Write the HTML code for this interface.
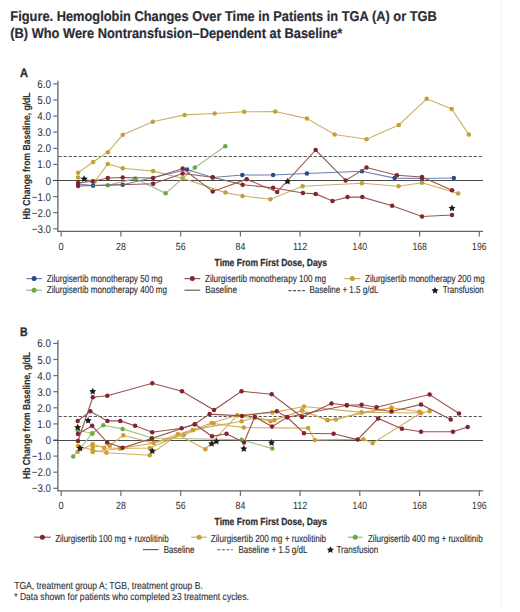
<!DOCTYPE html>
<html><head><meta charset="utf-8"><title>Figure</title>
<style>
html,body{margin:0;padding:0;background:#fff;}
body{width:520px;height:612px;overflow:hidden;font-family:"Liberation Sans", sans-serif;}
svg{display:block;}
</style></head><body>
<svg width="520" height="612" viewBox="0 0 520 612" text-rendering="geometricPrecision">
<g font-family='"Liberation Sans", sans-serif'>
<rect x="499.5" y="0" width="3" height="607.5" fill="#f9f9f9"/>
<text x="10.3" y="20.9" font-size="14.2" font-weight="bold" text-anchor="start" fill="#2a2d35" textLength="426.5" lengthAdjust="spacingAndGlyphs" stroke="#2a2d35" stroke-width="0.2">Figure. Hemoglobin Changes Over Time in Patients in TGA (A) or TGB</text>
<text x="10.3" y="37.7" font-size="14.2" font-weight="bold" text-anchor="start" fill="#2a2d35" textLength="332.0" lengthAdjust="spacingAndGlyphs" stroke="#2a2d35" stroke-width="0.2">(B) Who Were Nontransfusion–Dependent at Baseline*</text>
<text x="19.9" y="76.7" font-size="12.5" font-weight="bold" text-anchor="start" fill="#2d2f33" textLength="8.0" lengthAdjust="spacingAndGlyphs" stroke="#2d2f33" stroke-width="0.35">A</text>
<text transform="translate(30.4,156.0) rotate(-90)" x="0" y="0" font-size="10.2" font-weight="bold" text-anchor="middle" fill="#2d2f33" stroke="#2d2f33" stroke-width="0.1" textLength="127" lengthAdjust="spacingAndGlyphs">Hb Change from Baseline, g/dL</text>
<line x1="53.3" y1="83.9" x2="57.9" y2="83.9" stroke="#6e6e6e" stroke-width="1.2"/>
<text x="51.0" y="87.9" font-size="11.2" font-weight="normal" text-anchor="end" fill="#2d2f33" textLength="13.8" lengthAdjust="spacingAndGlyphs">6.0</text>
<line x1="53.3" y1="100.0" x2="57.9" y2="100.0" stroke="#6e6e6e" stroke-width="1.2"/>
<text x="51.0" y="104.0" font-size="11.2" font-weight="normal" text-anchor="end" fill="#2d2f33" textLength="13.8" lengthAdjust="spacingAndGlyphs">5.0</text>
<line x1="53.3" y1="116.1" x2="57.9" y2="116.1" stroke="#6e6e6e" stroke-width="1.2"/>
<text x="51.0" y="120.1" font-size="11.2" font-weight="normal" text-anchor="end" fill="#2d2f33" textLength="13.8" lengthAdjust="spacingAndGlyphs">4.0</text>
<line x1="53.3" y1="132.2" x2="57.9" y2="132.2" stroke="#6e6e6e" stroke-width="1.2"/>
<text x="51.0" y="136.2" font-size="11.2" font-weight="normal" text-anchor="end" fill="#2d2f33" textLength="13.8" lengthAdjust="spacingAndGlyphs">3.0</text>
<line x1="53.3" y1="148.3" x2="57.9" y2="148.3" stroke="#6e6e6e" stroke-width="1.2"/>
<text x="51.0" y="152.3" font-size="11.2" font-weight="normal" text-anchor="end" fill="#2d2f33" textLength="13.8" lengthAdjust="spacingAndGlyphs">2.0</text>
<line x1="53.3" y1="164.4" x2="57.9" y2="164.4" stroke="#6e6e6e" stroke-width="1.2"/>
<text x="51.0" y="168.4" font-size="11.2" font-weight="normal" text-anchor="end" fill="#2d2f33" textLength="13.8" lengthAdjust="spacingAndGlyphs">1.0</text>
<line x1="53.3" y1="180.5" x2="57.9" y2="180.5" stroke="#6e6e6e" stroke-width="1.2"/>
<text x="51.0" y="184.5" font-size="11.2" font-weight="normal" text-anchor="end" fill="#2d2f33" textLength="5.6" lengthAdjust="spacingAndGlyphs">0</text>
<line x1="53.3" y1="196.6" x2="57.9" y2="196.6" stroke="#6e6e6e" stroke-width="1.2"/>
<text x="51.0" y="200.6" font-size="11.2" font-weight="normal" text-anchor="end" fill="#2d2f33" textLength="19.2" lengthAdjust="spacingAndGlyphs">−1.0</text>
<line x1="53.3" y1="212.7" x2="57.9" y2="212.7" stroke="#6e6e6e" stroke-width="1.2"/>
<text x="51.0" y="216.7" font-size="11.2" font-weight="normal" text-anchor="end" fill="#2d2f33" textLength="19.2" lengthAdjust="spacingAndGlyphs">−2.0</text>
<line x1="53.3" y1="228.8" x2="57.9" y2="228.8" stroke="#6e6e6e" stroke-width="1.2"/>
<text x="51.0" y="232.8" font-size="11.2" font-weight="normal" text-anchor="end" fill="#2d2f33" textLength="19.2" lengthAdjust="spacingAndGlyphs">−3.0</text>
<line x1="57.9" y1="80.8" x2="57.9" y2="231.6" stroke="#6e6e6e" stroke-width="1.4"/>
<line x1="57.2" y1="231.3" x2="483" y2="231.3" stroke="#666" stroke-width="1.2"/>
<line x1="61.2" y1="231.1" x2="61.2" y2="236.4" stroke="#6e6e6e" stroke-width="1.2"/>
<text x="61.2" y="249.6" font-size="10.4" font-weight="normal" text-anchor="middle" fill="#2d2f33" textLength="5.2" lengthAdjust="spacingAndGlyphs">0</text>
<line x1="120.9" y1="231.1" x2="120.9" y2="236.4" stroke="#6e6e6e" stroke-width="1.2"/>
<text x="120.9" y="249.6" font-size="10.4" font-weight="normal" text-anchor="middle" fill="#2d2f33" textLength="9.8" lengthAdjust="spacingAndGlyphs">28</text>
<line x1="180.7" y1="231.1" x2="180.7" y2="236.4" stroke="#6e6e6e" stroke-width="1.2"/>
<text x="180.7" y="249.6" font-size="10.4" font-weight="normal" text-anchor="middle" fill="#2d2f33" textLength="9.8" lengthAdjust="spacingAndGlyphs">56</text>
<line x1="240.4" y1="231.1" x2="240.4" y2="236.4" stroke="#6e6e6e" stroke-width="1.2"/>
<text x="240.4" y="249.6" font-size="10.4" font-weight="normal" text-anchor="middle" fill="#2d2f33" textLength="9.8" lengthAdjust="spacingAndGlyphs">84</text>
<line x1="300.1" y1="231.1" x2="300.1" y2="236.4" stroke="#6e6e6e" stroke-width="1.2"/>
<text x="300.1" y="249.6" font-size="10.4" font-weight="normal" text-anchor="middle" fill="#2d2f33" textLength="14.4" lengthAdjust="spacingAndGlyphs">112</text>
<line x1="359.8" y1="231.1" x2="359.8" y2="236.4" stroke="#6e6e6e" stroke-width="1.2"/>
<text x="359.8" y="249.6" font-size="10.4" font-weight="normal" text-anchor="middle" fill="#2d2f33" textLength="14.4" lengthAdjust="spacingAndGlyphs">140</text>
<line x1="419.6" y1="231.1" x2="419.6" y2="236.4" stroke="#6e6e6e" stroke-width="1.2"/>
<text x="419.6" y="249.6" font-size="10.4" font-weight="normal" text-anchor="middle" fill="#2d2f33" textLength="14.4" lengthAdjust="spacingAndGlyphs">168</text>
<line x1="479.3" y1="231.1" x2="479.3" y2="236.4" stroke="#6e6e6e" stroke-width="1.2"/>
<text x="479.3" y="249.6" font-size="10.4" font-weight="normal" text-anchor="middle" fill="#2d2f33" textLength="14.4" lengthAdjust="spacingAndGlyphs">196</text>
<text x="214.6" y="265.7" font-size="10.2" font-weight="bold" text-anchor="start" fill="#2d2f33" textLength="112.5" lengthAdjust="spacingAndGlyphs" stroke="#2d2f33" stroke-width="0.25">Time From First Dose, Days</text>
<line x1="53.3" y1="180.5" x2="483" y2="180.5" stroke="#4a4a4a" stroke-width="1.0"/>
<line x1="58.6" y1="156.5" x2="483" y2="156.5" stroke="#5a5a5a" stroke-width="1.0" stroke-dasharray="3.3,1.7"/>
<text x="19.9" y="335.8" font-size="12.5" font-weight="bold" text-anchor="start" fill="#2d2f33" textLength="7.6" lengthAdjust="spacingAndGlyphs" stroke="#2d2f33" stroke-width="0.35">B</text>
<text transform="translate(30.4,415.5) rotate(-90)" x="0" y="0" font-size="10.2" font-weight="bold" text-anchor="middle" fill="#2d2f33" stroke="#2d2f33" stroke-width="0.1" textLength="127" lengthAdjust="spacingAndGlyphs">Hb Change from Baseline, g/dL</text>
<line x1="53.3" y1="343.4" x2="57.9" y2="343.4" stroke="#6e6e6e" stroke-width="1.2"/>
<text x="51.0" y="347.4" font-size="11.2" font-weight="normal" text-anchor="end" fill="#2d2f33" textLength="13.8" lengthAdjust="spacingAndGlyphs">6.0</text>
<line x1="53.3" y1="359.5" x2="57.9" y2="359.5" stroke="#6e6e6e" stroke-width="1.2"/>
<text x="51.0" y="363.5" font-size="11.2" font-weight="normal" text-anchor="end" fill="#2d2f33" textLength="13.8" lengthAdjust="spacingAndGlyphs">5.0</text>
<line x1="53.3" y1="375.6" x2="57.9" y2="375.6" stroke="#6e6e6e" stroke-width="1.2"/>
<text x="51.0" y="379.6" font-size="11.2" font-weight="normal" text-anchor="end" fill="#2d2f33" textLength="13.8" lengthAdjust="spacingAndGlyphs">4.0</text>
<line x1="53.3" y1="391.7" x2="57.9" y2="391.7" stroke="#6e6e6e" stroke-width="1.2"/>
<text x="51.0" y="395.7" font-size="11.2" font-weight="normal" text-anchor="end" fill="#2d2f33" textLength="13.8" lengthAdjust="spacingAndGlyphs">3.0</text>
<line x1="53.3" y1="407.8" x2="57.9" y2="407.8" stroke="#6e6e6e" stroke-width="1.2"/>
<text x="51.0" y="411.8" font-size="11.2" font-weight="normal" text-anchor="end" fill="#2d2f33" textLength="13.8" lengthAdjust="spacingAndGlyphs">2.0</text>
<line x1="53.3" y1="423.9" x2="57.9" y2="423.9" stroke="#6e6e6e" stroke-width="1.2"/>
<text x="51.0" y="427.9" font-size="11.2" font-weight="normal" text-anchor="end" fill="#2d2f33" textLength="13.8" lengthAdjust="spacingAndGlyphs">1.0</text>
<line x1="53.3" y1="440.0" x2="57.9" y2="440.0" stroke="#6e6e6e" stroke-width="1.2"/>
<text x="51.0" y="444.0" font-size="11.2" font-weight="normal" text-anchor="end" fill="#2d2f33" textLength="5.6" lengthAdjust="spacingAndGlyphs">0</text>
<line x1="53.3" y1="456.1" x2="57.9" y2="456.1" stroke="#6e6e6e" stroke-width="1.2"/>
<text x="51.0" y="460.1" font-size="11.2" font-weight="normal" text-anchor="end" fill="#2d2f33" textLength="19.2" lengthAdjust="spacingAndGlyphs">−1.0</text>
<line x1="53.3" y1="472.2" x2="57.9" y2="472.2" stroke="#6e6e6e" stroke-width="1.2"/>
<text x="51.0" y="476.2" font-size="11.2" font-weight="normal" text-anchor="end" fill="#2d2f33" textLength="19.2" lengthAdjust="spacingAndGlyphs">−2.0</text>
<line x1="53.3" y1="488.3" x2="57.9" y2="488.3" stroke="#6e6e6e" stroke-width="1.2"/>
<text x="51.0" y="492.3" font-size="11.2" font-weight="normal" text-anchor="end" fill="#2d2f33" textLength="19.2" lengthAdjust="spacingAndGlyphs">−3.0</text>
<line x1="57.9" y1="340.3" x2="57.9" y2="491.1" stroke="#6e6e6e" stroke-width="1.4"/>
<line x1="57.2" y1="490.8" x2="483" y2="490.8" stroke="#666" stroke-width="1.2"/>
<line x1="61.2" y1="490.6" x2="61.2" y2="495.9" stroke="#6e6e6e" stroke-width="1.2"/>
<text x="61.2" y="509.1" font-size="10.4" font-weight="normal" text-anchor="middle" fill="#2d2f33" textLength="5.2" lengthAdjust="spacingAndGlyphs">0</text>
<line x1="120.9" y1="490.6" x2="120.9" y2="495.9" stroke="#6e6e6e" stroke-width="1.2"/>
<text x="120.9" y="509.1" font-size="10.4" font-weight="normal" text-anchor="middle" fill="#2d2f33" textLength="9.8" lengthAdjust="spacingAndGlyphs">28</text>
<line x1="180.7" y1="490.6" x2="180.7" y2="495.9" stroke="#6e6e6e" stroke-width="1.2"/>
<text x="180.7" y="509.1" font-size="10.4" font-weight="normal" text-anchor="middle" fill="#2d2f33" textLength="9.8" lengthAdjust="spacingAndGlyphs">56</text>
<line x1="240.4" y1="490.6" x2="240.4" y2="495.9" stroke="#6e6e6e" stroke-width="1.2"/>
<text x="240.4" y="509.1" font-size="10.4" font-weight="normal" text-anchor="middle" fill="#2d2f33" textLength="9.8" lengthAdjust="spacingAndGlyphs">84</text>
<line x1="300.1" y1="490.6" x2="300.1" y2="495.9" stroke="#6e6e6e" stroke-width="1.2"/>
<text x="300.1" y="509.1" font-size="10.4" font-weight="normal" text-anchor="middle" fill="#2d2f33" textLength="14.4" lengthAdjust="spacingAndGlyphs">112</text>
<line x1="359.8" y1="490.6" x2="359.8" y2="495.9" stroke="#6e6e6e" stroke-width="1.2"/>
<text x="359.8" y="509.1" font-size="10.4" font-weight="normal" text-anchor="middle" fill="#2d2f33" textLength="14.4" lengthAdjust="spacingAndGlyphs">140</text>
<line x1="419.6" y1="490.6" x2="419.6" y2="495.9" stroke="#6e6e6e" stroke-width="1.2"/>
<text x="419.6" y="509.1" font-size="10.4" font-weight="normal" text-anchor="middle" fill="#2d2f33" textLength="14.4" lengthAdjust="spacingAndGlyphs">168</text>
<line x1="479.3" y1="490.6" x2="479.3" y2="495.9" stroke="#6e6e6e" stroke-width="1.2"/>
<text x="479.3" y="509.1" font-size="10.4" font-weight="normal" text-anchor="middle" fill="#2d2f33" textLength="14.4" lengthAdjust="spacingAndGlyphs">196</text>
<text x="214.6" y="525.2" font-size="10.2" font-weight="bold" text-anchor="start" fill="#2d2f33" textLength="112.5" lengthAdjust="spacingAndGlyphs" stroke="#2d2f33" stroke-width="0.25">Time From First Dose, Days</text>
<line x1="53.3" y1="440.5" x2="483" y2="440.5" stroke="#4a4a4a" stroke-width="1.0"/>
<line x1="58.6" y1="416.5" x2="483" y2="416.5" stroke="#5a5a5a" stroke-width="1.0" stroke-dasharray="3.3,1.7"/>
<polyline points="78.1,172.7 93.2,162.0 107.8,152.2 122.8,134.8 152.8,121.8 184.6,114.9 214.7,113.5 244.2,111.8 275.3,111.5 306.9,118.6 334.6,134.5 366.5,139.3 398.8,125.0 426.7,98.8 451.7,109.0 468.8,134.6" fill="none" stroke="#cbb066" stroke-width="1.1"/>
<circle cx="78.1" cy="172.7" r="2.25" fill="#c1a034"/>
<circle cx="93.2" cy="162.0" r="2.25" fill="#c1a034"/>
<circle cx="107.8" cy="152.2" r="2.25" fill="#c1a034"/>
<circle cx="122.8" cy="134.8" r="2.25" fill="#c1a034"/>
<circle cx="152.8" cy="121.8" r="2.25" fill="#c1a034"/>
<circle cx="184.6" cy="114.9" r="2.25" fill="#c1a034"/>
<circle cx="214.7" cy="113.5" r="2.25" fill="#c1a034"/>
<circle cx="244.2" cy="111.8" r="2.25" fill="#c1a034"/>
<circle cx="275.3" cy="111.5" r="2.25" fill="#c1a034"/>
<circle cx="306.9" cy="118.6" r="2.25" fill="#c1a034"/>
<circle cx="334.6" cy="134.5" r="2.25" fill="#c1a034"/>
<circle cx="366.5" cy="139.3" r="2.25" fill="#c1a034"/>
<circle cx="398.8" cy="125.0" r="2.25" fill="#c1a034"/>
<circle cx="426.7" cy="98.8" r="2.25" fill="#c1a034"/>
<circle cx="451.7" cy="109.0" r="2.25" fill="#c1a034"/>
<circle cx="468.8" cy="134.6" r="2.25" fill="#c1a034"/>
<polyline points="78.1,177.5 94.8,181.4 107.8,163.9 122.7,168.3 153.1,171.1 182.6,178.2 225.5,192.6 242.5,196.0 270.3,199.2 302.6,186.2 361.9,183.3 398.5,186.2 422.0,182.8 458.2,193.4" fill="none" stroke="#cbb066" stroke-width="1.1"/>
<circle cx="78.1" cy="177.5" r="2.25" fill="#c1a034"/>
<circle cx="94.8" cy="181.4" r="2.25" fill="#c1a034"/>
<circle cx="107.8" cy="163.9" r="2.25" fill="#c1a034"/>
<circle cx="122.7" cy="168.3" r="2.25" fill="#c1a034"/>
<circle cx="153.1" cy="171.1" r="2.25" fill="#c1a034"/>
<circle cx="182.6" cy="178.2" r="2.25" fill="#c1a034"/>
<circle cx="225.5" cy="192.6" r="2.25" fill="#c1a034"/>
<circle cx="242.5" cy="196.0" r="2.25" fill="#c1a034"/>
<circle cx="270.3" cy="199.2" r="2.25" fill="#c1a034"/>
<circle cx="302.6" cy="186.2" r="2.25" fill="#c1a034"/>
<circle cx="361.9" cy="183.3" r="2.25" fill="#c1a034"/>
<circle cx="398.5" cy="186.2" r="2.25" fill="#c1a034"/>
<circle cx="422.0" cy="182.8" r="2.25" fill="#c1a034"/>
<circle cx="458.2" cy="193.4" r="2.25" fill="#c1a034"/>
<polyline points="93.1,185.5 107.8,185.3 135.3,178.6 165.6,193.3 194.9,167.6 225.3,146.2" fill="none" stroke="#9ab884" stroke-width="1.1"/>
<circle cx="93.1" cy="185.5" r="2.25" fill="#68a940"/>
<circle cx="107.8" cy="185.3" r="2.25" fill="#68a940"/>
<circle cx="135.3" cy="178.6" r="2.25" fill="#68a940"/>
<circle cx="165.6" cy="193.3" r="2.25" fill="#68a940"/>
<circle cx="194.9" cy="167.6" r="2.25" fill="#68a940"/>
<circle cx="225.3" cy="146.2" r="2.25" fill="#68a940"/>
<polyline points="78.1,184.0 93.1,185.5 122.7,184.7 187.0,169.5 212.7,177.5 242.3,175.0 273.1,175.0 306.9,173.5 361.9,171.3 394.6,178.1 422.0,178.5 453.8,178.0" fill="none" stroke="#6a80b0" stroke-width="1.1"/>
<circle cx="78.1" cy="184.0" r="2.25" fill="#214c8e"/>
<circle cx="93.1" cy="185.5" r="2.25" fill="#214c8e"/>
<circle cx="122.7" cy="184.7" r="2.25" fill="#214c8e"/>
<circle cx="187.0" cy="169.5" r="2.25" fill="#214c8e"/>
<circle cx="212.7" cy="177.5" r="2.25" fill="#214c8e"/>
<circle cx="242.3" cy="175.0" r="2.25" fill="#214c8e"/>
<circle cx="273.1" cy="175.0" r="2.25" fill="#214c8e"/>
<circle cx="306.9" cy="173.5" r="2.25" fill="#214c8e"/>
<circle cx="361.9" cy="171.3" r="2.25" fill="#214c8e"/>
<circle cx="394.6" cy="178.1" r="2.25" fill="#214c8e"/>
<circle cx="422.0" cy="178.5" r="2.25" fill="#214c8e"/>
<circle cx="453.8" cy="178.0" r="2.25" fill="#214c8e"/>
<polyline points="78.1,186.0 153.1,183.8 182.7,173.5 212.7,177.2 242.6,184.7 273.1,187.8 302.9,193.0 315.7,193.9 332.5,201.0 347.5,197.1 362.3,197.1 392.1,205.8 422.0,216.5 452.0,215.0" fill="none" stroke="#92584f" stroke-width="1.1"/>
<circle cx="78.1" cy="186.0" r="2.25" fill="#842430"/>
<circle cx="153.1" cy="183.8" r="2.25" fill="#842430"/>
<circle cx="182.7" cy="173.5" r="2.25" fill="#842430"/>
<circle cx="212.7" cy="177.2" r="2.25" fill="#842430"/>
<circle cx="242.6" cy="184.7" r="2.25" fill="#842430"/>
<circle cx="273.1" cy="187.8" r="2.25" fill="#842430"/>
<circle cx="302.9" cy="193.0" r="2.25" fill="#842430"/>
<circle cx="315.7" cy="193.9" r="2.25" fill="#842430"/>
<circle cx="332.5" cy="201.0" r="2.25" fill="#842430"/>
<circle cx="347.5" cy="197.1" r="2.25" fill="#842430"/>
<circle cx="362.3" cy="197.1" r="2.25" fill="#842430"/>
<circle cx="392.1" cy="205.8" r="2.25" fill="#842430"/>
<circle cx="422.0" cy="216.5" r="2.25" fill="#842430"/>
<circle cx="452.0" cy="215.0" r="2.25" fill="#842430"/>
<polyline points="78.1,183.0 92.7,181.2 107.8,178.0 122.7,177.5 153.1,178.0 182.7,168.5 212.7,191.5 246.7,179.2 277.2,191.9 315.7,150.0 345.6,180.4 366.5,167.5 396.9,175.2 422.0,177.0 452.0,190.3" fill="none" stroke="#92584f" stroke-width="1.1"/>
<circle cx="78.1" cy="183.0" r="2.25" fill="#842430"/>
<circle cx="92.7" cy="181.2" r="2.25" fill="#842430"/>
<circle cx="107.8" cy="178.0" r="2.25" fill="#842430"/>
<circle cx="122.7" cy="177.5" r="2.25" fill="#842430"/>
<circle cx="153.1" cy="178.0" r="2.25" fill="#842430"/>
<circle cx="182.7" cy="168.5" r="2.25" fill="#842430"/>
<circle cx="212.7" cy="191.5" r="2.25" fill="#842430"/>
<circle cx="246.7" cy="179.2" r="2.25" fill="#842430"/>
<circle cx="277.2" cy="191.9" r="2.25" fill="#842430"/>
<circle cx="315.7" cy="150.0" r="2.25" fill="#842430"/>
<circle cx="345.6" cy="180.4" r="2.25" fill="#842430"/>
<circle cx="366.5" cy="167.5" r="2.25" fill="#842430"/>
<circle cx="396.9" cy="175.2" r="2.25" fill="#842430"/>
<circle cx="422.0" cy="177.0" r="2.25" fill="#842430"/>
<circle cx="452.0" cy="190.3" r="2.25" fill="#842430"/>
<polygon points="84.20,175.30 85.29,177.50 87.72,177.86 85.96,179.57 86.37,181.99 84.20,180.85 82.03,181.99 82.44,179.57 80.68,177.86 83.11,177.50" fill="#1b1d26"/>
<polygon points="287.60,177.80 288.69,180.00 291.12,180.36 289.36,182.07 289.77,184.49 287.60,183.35 285.43,184.49 285.84,182.07 284.08,180.36 286.51,180.00" fill="#1b1d26"/>
<polygon points="452.00,204.50 453.09,206.70 455.52,207.06 453.76,208.77 454.17,211.19 452.00,210.05 449.83,211.19 450.24,208.77 448.48,207.06 450.91,206.70" fill="#1b1d26"/>
<polyline points="73.2,456.5 92.3,433.5 103.3,425.3 122.6,428.9 152.3,438.0 241.6,439.7 272.3,448.6" fill="none" stroke="#a0c07c" stroke-width="1.1"/>
<circle cx="73.2" cy="456.5" r="2.25" fill="#6aae40"/>
<circle cx="92.3" cy="433.5" r="2.25" fill="#6aae40"/>
<circle cx="103.3" cy="425.3" r="2.25" fill="#6aae40"/>
<circle cx="122.6" cy="428.9" r="2.25" fill="#6aae40"/>
<circle cx="152.3" cy="438.0" r="2.25" fill="#6aae40"/>
<circle cx="241.6" cy="439.7" r="2.25" fill="#6aae40"/>
<circle cx="272.3" cy="448.6" r="2.25" fill="#6aae40"/>
<polyline points="77.9,430.2 92.3,433.5" fill="none" stroke="#a0c07c" stroke-width="1.1"/>
<circle cx="77.9" cy="430.2" r="2.25" fill="#6aae40"/>
<circle cx="92.3" cy="433.5" r="2.25" fill="#6aae40"/>
<polyline points="77.7,451.7 92.7,444.0 104.2,448.0 121.5,448.3 153.7,443.1 178.0,434.3 192.8,429.9 211.5,423.0 237.3,415.2 270.4,421.3 302.0,410.6 327.3,420.1 335.8,419.6 361.6,412.4 391.5,407.8 419.2,411.8" fill="none" stroke="#d3ad5e" stroke-width="1.1"/>
<circle cx="77.7" cy="451.7" r="2.25" fill="#cc9e2e"/>
<circle cx="92.7" cy="444.0" r="2.25" fill="#cc9e2e"/>
<circle cx="104.2" cy="448.0" r="2.25" fill="#cc9e2e"/>
<circle cx="121.5" cy="448.3" r="2.25" fill="#cc9e2e"/>
<circle cx="153.7" cy="443.1" r="2.25" fill="#cc9e2e"/>
<circle cx="178.0" cy="434.3" r="2.25" fill="#cc9e2e"/>
<circle cx="192.8" cy="429.9" r="2.25" fill="#cc9e2e"/>
<circle cx="211.5" cy="423.0" r="2.25" fill="#cc9e2e"/>
<circle cx="237.3" cy="415.2" r="2.25" fill="#cc9e2e"/>
<circle cx="270.4" cy="421.3" r="2.25" fill="#cc9e2e"/>
<circle cx="302.0" cy="410.6" r="2.25" fill="#cc9e2e"/>
<circle cx="327.3" cy="420.1" r="2.25" fill="#cc9e2e"/>
<circle cx="335.8" cy="419.6" r="2.25" fill="#cc9e2e"/>
<circle cx="361.6" cy="412.4" r="2.25" fill="#cc9e2e"/>
<circle cx="391.5" cy="407.8" r="2.25" fill="#cc9e2e"/>
<circle cx="419.2" cy="411.8" r="2.25" fill="#cc9e2e"/>
<polyline points="78.0,446.0 92.7,450.0 106.4,452.8 149.7,455.2 177.7,434.6 205.4,449.2 237.3,415.2 272.4,412.6 304.0,406.5 361.6,412.4 421.0,413.0 429.6,411.3" fill="none" stroke="#d3ad5e" stroke-width="1.1"/>
<circle cx="78.0" cy="446.0" r="2.25" fill="#cc9e2e"/>
<circle cx="92.7" cy="450.0" r="2.25" fill="#cc9e2e"/>
<circle cx="106.4" cy="452.8" r="2.25" fill="#cc9e2e"/>
<circle cx="149.7" cy="455.2" r="2.25" fill="#cc9e2e"/>
<circle cx="177.7" cy="434.6" r="2.25" fill="#cc9e2e"/>
<circle cx="205.4" cy="449.2" r="2.25" fill="#cc9e2e"/>
<circle cx="237.3" cy="415.2" r="2.25" fill="#cc9e2e"/>
<circle cx="272.4" cy="412.6" r="2.25" fill="#cc9e2e"/>
<circle cx="304.0" cy="406.5" r="2.25" fill="#cc9e2e"/>
<circle cx="361.6" cy="412.4" r="2.25" fill="#cc9e2e"/>
<circle cx="421.0" cy="413.0" r="2.25" fill="#cc9e2e"/>
<circle cx="429.6" cy="411.3" r="2.25" fill="#cc9e2e"/>
<polyline points="92.7,447.0 109.8,445.8 123.3,435.3 153.7,443.1 184.0,434.7 213.7,423.5 243.8,427.6 308.1,428.1 314.8,439.9 363.5,439.2 372.7,443.2 421.0,413.0" fill="none" stroke="#d3ad5e" stroke-width="1.1"/>
<circle cx="92.7" cy="447.0" r="2.25" fill="#cc9e2e"/>
<circle cx="109.8" cy="445.8" r="2.25" fill="#cc9e2e"/>
<circle cx="123.3" cy="435.3" r="2.25" fill="#cc9e2e"/>
<circle cx="153.7" cy="443.1" r="2.25" fill="#cc9e2e"/>
<circle cx="184.0" cy="434.7" r="2.25" fill="#cc9e2e"/>
<circle cx="213.7" cy="423.5" r="2.25" fill="#cc9e2e"/>
<circle cx="243.8" cy="427.6" r="2.25" fill="#cc9e2e"/>
<circle cx="308.1" cy="428.1" r="2.25" fill="#cc9e2e"/>
<circle cx="314.8" cy="439.9" r="2.25" fill="#cc9e2e"/>
<circle cx="363.5" cy="439.2" r="2.25" fill="#cc9e2e"/>
<circle cx="372.7" cy="443.2" r="2.25" fill="#cc9e2e"/>
<circle cx="421.0" cy="413.0" r="2.25" fill="#cc9e2e"/>
<polyline points="92.7,452.0 119.9,448.5 149.7,448.0 192.8,429.9 241.6,421.2 254.8,417.9 274.4,420.3 302.0,410.6 327.6,420.3 391.5,407.8" fill="none" stroke="#d3ad5e" stroke-width="1.1"/>
<circle cx="92.7" cy="452.0" r="2.25" fill="#cc9e2e"/>
<circle cx="119.9" cy="448.5" r="2.25" fill="#cc9e2e"/>
<circle cx="149.7" cy="448.0" r="2.25" fill="#cc9e2e"/>
<circle cx="192.8" cy="429.9" r="2.25" fill="#cc9e2e"/>
<circle cx="241.6" cy="421.2" r="2.25" fill="#cc9e2e"/>
<circle cx="254.8" cy="417.9" r="2.25" fill="#cc9e2e"/>
<circle cx="274.4" cy="420.3" r="2.25" fill="#cc9e2e"/>
<circle cx="302.0" cy="410.6" r="2.25" fill="#cc9e2e"/>
<circle cx="327.6" cy="420.3" r="2.25" fill="#cc9e2e"/>
<circle cx="391.5" cy="407.8" r="2.25" fill="#cc9e2e"/>
<polyline points="77.9,434.1 92.1,425.8 107.1,442.4 122.6,447.8 151.7,438.4 194.8,424.2 212.0,436.3 226.5,433.8 244.0,442.4 254.8,416.8 272.0,426.6 287.2,417.3 346.8,405.3 391.5,411.5 421.0,404.4 450.7,419.6" fill="none" stroke="#9a5048" stroke-width="1.1"/>
<circle cx="77.9" cy="434.1" r="2.25" fill="#862230"/>
<circle cx="92.1" cy="425.8" r="2.25" fill="#862230"/>
<circle cx="107.1" cy="442.4" r="2.25" fill="#862230"/>
<circle cx="122.6" cy="447.8" r="2.25" fill="#862230"/>
<circle cx="151.7" cy="438.4" r="2.25" fill="#862230"/>
<circle cx="194.8" cy="424.2" r="2.25" fill="#862230"/>
<circle cx="212.0" cy="436.3" r="2.25" fill="#862230"/>
<circle cx="226.5" cy="433.8" r="2.25" fill="#862230"/>
<circle cx="244.0" cy="442.4" r="2.25" fill="#862230"/>
<circle cx="254.8" cy="416.8" r="2.25" fill="#862230"/>
<circle cx="272.0" cy="426.6" r="2.25" fill="#862230"/>
<circle cx="287.2" cy="417.3" r="2.25" fill="#862230"/>
<circle cx="346.8" cy="405.3" r="2.25" fill="#862230"/>
<circle cx="391.5" cy="411.5" r="2.25" fill="#862230"/>
<circle cx="421.0" cy="404.4" r="2.25" fill="#862230"/>
<circle cx="450.7" cy="419.6" r="2.25" fill="#862230"/>
<polyline points="77.7,421.0 90.3,411.3 107.4,420.9 120.3,420.9 135.1,425.8 152.2,432.3 181.6,428.3 194.8,424.2 209.6,414.1 242.0,415.9 276.8,411.2 287.2,417.3 304.0,433.2 333.6,433.7 357.6,439.6 378.1,418.5 401.9,428.8 421.0,431.7 453.0,431.7 467.7,427.0" fill="none" stroke="#9a5048" stroke-width="1.1"/>
<circle cx="77.7" cy="421.0" r="2.25" fill="#862230"/>
<circle cx="90.3" cy="411.3" r="2.25" fill="#862230"/>
<circle cx="107.4" cy="420.9" r="2.25" fill="#862230"/>
<circle cx="120.3" cy="420.9" r="2.25" fill="#862230"/>
<circle cx="135.1" cy="425.8" r="2.25" fill="#862230"/>
<circle cx="152.2" cy="432.3" r="2.25" fill="#862230"/>
<circle cx="181.6" cy="428.3" r="2.25" fill="#862230"/>
<circle cx="194.8" cy="424.2" r="2.25" fill="#862230"/>
<circle cx="209.6" cy="414.1" r="2.25" fill="#862230"/>
<circle cx="242.0" cy="415.9" r="2.25" fill="#862230"/>
<circle cx="276.8" cy="411.2" r="2.25" fill="#862230"/>
<circle cx="287.2" cy="417.3" r="2.25" fill="#862230"/>
<circle cx="304.0" cy="433.2" r="2.25" fill="#862230"/>
<circle cx="333.6" cy="433.7" r="2.25" fill="#862230"/>
<circle cx="357.6" cy="439.6" r="2.25" fill="#862230"/>
<circle cx="378.1" cy="418.5" r="2.25" fill="#862230"/>
<circle cx="401.9" cy="428.8" r="2.25" fill="#862230"/>
<circle cx="421.0" cy="431.7" r="2.25" fill="#862230"/>
<circle cx="453.0" cy="431.7" r="2.25" fill="#862230"/>
<circle cx="467.7" cy="427.0" r="2.25" fill="#862230"/>
<polyline points="78.0,441.0 92.8,397.3 107.3,395.8 152.3,383.2 182.0,391.2 214.0,410.0 241.5,391.2 271.7,394.3 302.0,417.0 331.5,403.5 346.8,405.3 361.6,404.7 376.5,407.3 429.6,394.5 459.0,413.5" fill="none" stroke="#9a5048" stroke-width="1.1"/>
<circle cx="78.0" cy="441.0" r="2.25" fill="#862230"/>
<circle cx="92.8" cy="397.3" r="2.25" fill="#862230"/>
<circle cx="107.3" cy="395.8" r="2.25" fill="#862230"/>
<circle cx="152.3" cy="383.2" r="2.25" fill="#862230"/>
<circle cx="182.0" cy="391.2" r="2.25" fill="#862230"/>
<circle cx="214.0" cy="410.0" r="2.25" fill="#862230"/>
<circle cx="241.5" cy="391.2" r="2.25" fill="#862230"/>
<circle cx="271.7" cy="394.3" r="2.25" fill="#862230"/>
<circle cx="302.0" cy="417.0" r="2.25" fill="#862230"/>
<circle cx="331.5" cy="403.5" r="2.25" fill="#862230"/>
<circle cx="346.8" cy="405.3" r="2.25" fill="#862230"/>
<circle cx="361.6" cy="404.7" r="2.25" fill="#862230"/>
<circle cx="376.5" cy="407.3" r="2.25" fill="#862230"/>
<circle cx="429.6" cy="394.5" r="2.25" fill="#862230"/>
<circle cx="459.0" cy="413.5" r="2.25" fill="#862230"/>
<polygon points="92.70,387.80 93.79,390.00 96.22,390.36 94.46,392.07 94.87,394.49 92.70,393.35 90.53,394.49 90.94,392.07 89.18,390.36 91.61,390.00" fill="#1b1d26"/>
<polygon points="88.10,416.90 89.19,419.10 91.62,419.46 89.86,421.17 90.27,423.59 88.10,422.45 85.93,423.59 86.34,421.17 84.58,419.46 87.01,419.10" fill="#1b1d26"/>
<polygon points="77.70,423.80 78.79,426.00 81.22,426.36 79.46,428.07 79.87,430.49 77.70,429.35 75.53,430.49 75.94,428.07 74.18,426.36 76.61,426.00" fill="#1b1d26"/>
<polygon points="80.00,444.60 81.09,446.80 83.52,447.16 81.76,448.87 82.17,451.29 80.00,450.15 77.83,451.29 78.24,448.87 76.48,447.16 78.91,446.80" fill="#1b1d26"/>
<polygon points="152.20,447.20 153.29,449.40 155.72,449.76 153.96,451.47 154.37,453.89 152.20,452.75 150.03,453.89 150.44,451.47 148.68,449.76 151.11,449.40" fill="#1b1d26"/>
<polygon points="211.70,440.00 212.79,442.20 215.22,442.56 213.46,444.27 213.87,446.69 211.70,445.55 209.53,446.69 209.94,444.27 208.18,442.56 210.61,442.20" fill="#1b1d26"/>
<polygon points="216.40,437.70 217.49,439.90 219.92,440.26 218.16,441.97 218.57,444.39 216.40,443.25 214.23,444.39 214.64,441.97 212.88,440.26 215.31,439.90" fill="#1b1d26"/>
<polygon points="243.80,445.10 244.89,447.30 247.32,447.66 245.56,449.37 245.97,451.79 243.80,450.65 241.63,451.79 242.04,449.37 240.28,447.66 242.71,447.30" fill="#1b1d26"/>
<polygon points="271.60,439.10 272.69,441.30 275.12,441.66 273.36,443.37 273.77,445.79 271.60,444.65 269.43,445.79 269.84,443.37 268.08,441.66 270.51,441.30" fill="#1b1d26"/>
<line x1="26.3" y1="278.6" x2="41.9" y2="278.6" stroke="#6a80b0" stroke-width="1.2"/>
<circle cx="34.1" cy="278.6" r="2.5" fill="#214c8e"/>
<text x="46.8" y="282.3" font-size="10.2" font-weight="normal" text-anchor="start" fill="#2d2f33" textLength="115.8" lengthAdjust="spacingAndGlyphs" stroke="#2d2f33" stroke-width="0.15">Zilurgisertib monotherapy 50 mg</text>
<line x1="184.4" y1="278.6" x2="200.2" y2="278.6" stroke="#92584f" stroke-width="1.2"/>
<circle cx="192.3" cy="278.6" r="2.5" fill="#842430"/>
<text x="205.0" y="282.3" font-size="10.2" font-weight="normal" text-anchor="start" fill="#2d2f33" textLength="121.1" lengthAdjust="spacingAndGlyphs" stroke="#2d2f33" stroke-width="0.15">Zilurgisertib monotherapy 100 mg</text>
<line x1="344.4" y1="278.6" x2="360.2" y2="278.6" stroke="#cbb066" stroke-width="1.2"/>
<circle cx="352.3" cy="278.6" r="2.5" fill="#c1a034"/>
<text x="365.0" y="282.3" font-size="10.2" font-weight="normal" text-anchor="start" fill="#2d2f33" textLength="119.6" lengthAdjust="spacingAndGlyphs" stroke="#2d2f33" stroke-width="0.15">Zilurgisertib monotherapy 200 mg</text>
<line x1="26.3" y1="290.2" x2="41.9" y2="290.2" stroke="#9ab884" stroke-width="1.2"/>
<circle cx="34.1" cy="290.2" r="2.5" fill="#68a940"/>
<text x="46.8" y="293.0" font-size="10.2" font-weight="normal" text-anchor="start" fill="#2d2f33" textLength="120.3" lengthAdjust="spacingAndGlyphs" stroke="#2d2f33" stroke-width="0.15">Zilurgisertib monotherapy 400 mg</text>
<line x1="184.4" y1="290.2" x2="200.2" y2="290.2" stroke="#555" stroke-width="1.1"/>
<text x="205.3" y="293.0" font-size="10.2" font-weight="normal" text-anchor="start" fill="#2d2f33" textLength="31.8" lengthAdjust="spacingAndGlyphs" stroke="#2d2f33" stroke-width="0.15">Baseline</text>
<line x1="288.4" y1="290.6" x2="305" y2="290.6" stroke="#555" stroke-width="1.1" stroke-dasharray="3,1.6"/>
<text x="309.4" y="293.0" font-size="10.2" font-weight="normal" text-anchor="start" fill="#2d2f33" textLength="69.0" lengthAdjust="spacingAndGlyphs" stroke="#2d2f33" stroke-width="0.15">Baseline + 1.5 g/dL</text>
<polygon points="435.00,286.90 436.09,289.10 438.52,289.46 436.76,291.17 437.17,293.59 435.00,292.45 432.83,293.59 433.24,291.17 431.48,289.46 433.91,289.10" fill="#1b1d26"/>
<text x="442.7" y="293.0" font-size="10.2" font-weight="normal" text-anchor="start" fill="#2d2f33" textLength="41.0" lengthAdjust="spacingAndGlyphs" stroke="#2d2f33" stroke-width="0.15">Transfusion</text>
<line x1="34.0" y1="537.2" x2="50.8" y2="537.2" stroke="#92584f" stroke-width="1.2"/>
<circle cx="42.4" cy="537.2" r="2.5" fill="#842430"/>
<text x="55.2" y="541.7" font-size="10.2" font-weight="normal" text-anchor="start" fill="#2d2f33" textLength="113.4" lengthAdjust="spacingAndGlyphs" stroke="#2d2f33" stroke-width="0.15">Zilurgisertib 100 mg + ruxolitinib</text>
<line x1="191.2" y1="537.2" x2="207.0" y2="537.2" stroke="#cbb066" stroke-width="1.2"/>
<circle cx="199.1" cy="537.2" r="2.5" fill="#c1a034"/>
<text x="210.8" y="541.7" font-size="10.2" font-weight="normal" text-anchor="start" fill="#2d2f33" textLength="115.3" lengthAdjust="spacingAndGlyphs" stroke="#2d2f33" stroke-width="0.15">Zilurgisertib 200 mg + ruxolitinib</text>
<line x1="347.7" y1="537.2" x2="362.7" y2="537.2" stroke="#9ab884" stroke-width="1.2"/>
<circle cx="355.2" cy="537.2" r="2.5" fill="#68a940"/>
<text x="367.9" y="541.7" font-size="10.2" font-weight="normal" text-anchor="start" fill="#2d2f33" textLength="114.8" lengthAdjust="spacingAndGlyphs" stroke="#2d2f33" stroke-width="0.15">Zilurgisertib 400 mg + ruxolitinib</text>
<line x1="143" y1="549.6" x2="158.5" y2="549.6" stroke="#555" stroke-width="1.1"/>
<text x="163.7" y="553.0" font-size="10.2" font-weight="normal" text-anchor="start" fill="#2d2f33" textLength="30.8" lengthAdjust="spacingAndGlyphs" stroke="#2d2f33" stroke-width="0.15">Baseline</text>
<line x1="217.3" y1="549.8" x2="232.7" y2="549.8" stroke="#555" stroke-width="1.1" stroke-dasharray="3,1.6"/>
<text x="238.5" y="553.0" font-size="10.2" font-weight="normal" text-anchor="start" fill="#2d2f33" textLength="69.0" lengthAdjust="spacingAndGlyphs" stroke="#2d2f33" stroke-width="0.15">Baseline + 1.5 g/dL</text>
<polygon points="330.40,546.20 331.49,548.40 333.92,548.76 332.16,550.47 332.57,552.89 330.40,551.75 328.23,552.89 328.64,550.47 326.88,548.76 329.31,548.40" fill="#1b1d26"/>
<text x="336.5" y="553.0" font-size="10.2" font-weight="normal" text-anchor="start" fill="#2d2f33" textLength="41.8" lengthAdjust="spacingAndGlyphs" stroke="#2d2f33" stroke-width="0.15">Transfusion</text>
<text x="14.2" y="588.5" font-size="10.2" font-weight="normal" text-anchor="start" fill="#2d2f33" textLength="188.6" lengthAdjust="spacingAndGlyphs" stroke="#2d2f33" stroke-width="0.12">TGA, treatment group A; TGB, treatment group B.</text>
<text x="14.2" y="599.8" font-size="10.2" font-weight="normal" text-anchor="start" fill="#2d2f33" textLength="234.6" lengthAdjust="spacingAndGlyphs" stroke="#2d2f33" stroke-width="0.12">* Data shown for patients who completed ≥3 treatment cycles.</text>
</g></svg>
</body></html>
